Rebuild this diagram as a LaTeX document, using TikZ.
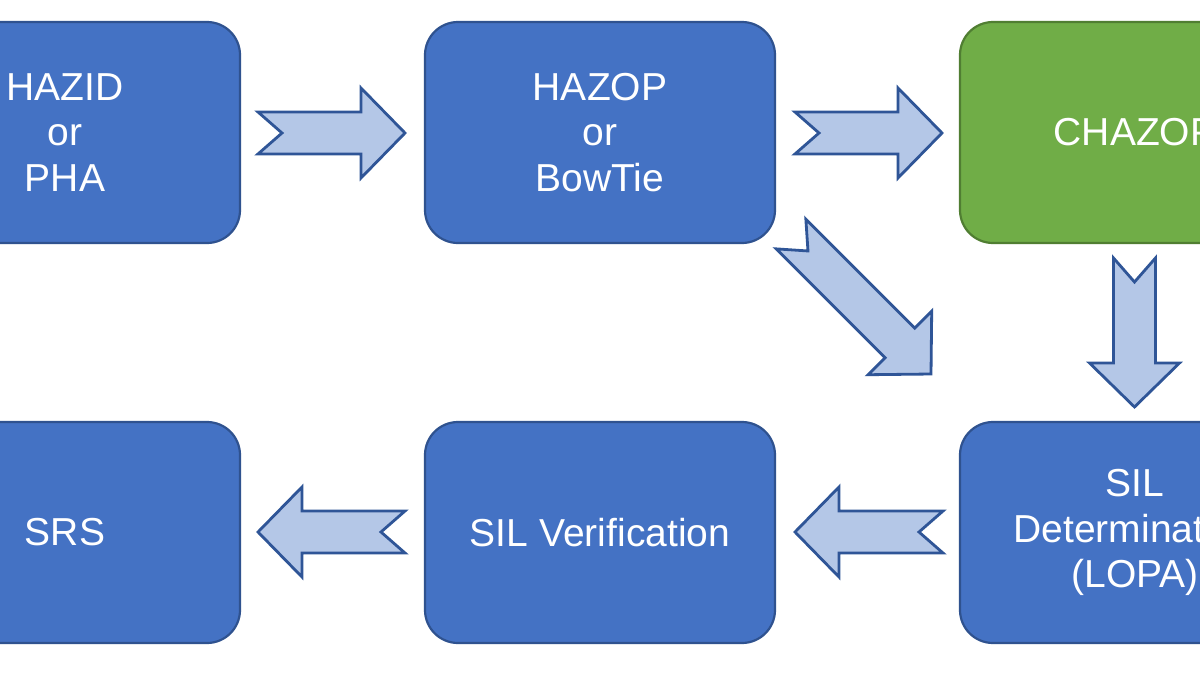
\documentclass[tikz,border=0pt]{standalone}
\usepackage{fontspec}
\setmainfont{Liberation Sans}
\definecolor{boxblue}{HTML}{4472C4}
\definecolor{boxedge}{HTML}{2F528F}
\definecolor{boxgreen}{HTML}{70AD47}
\definecolor{greenedge}{HTML}{507E32}
\definecolor{arrowfill}{HTML}{B4C7E7}
\definecolor{arrowedge}{HTML}{2F5597}
\tikzset{
  stagebox/.style={draw=boxedge, fill=boxblue, line width=2.2pt, rounded corners=33pt,
    minimum width=350pt, minimum height=221pt, text=white, align=center,
    font=\fontsize{39}{45.5}\selectfont, inner sep=0pt},
  greenbox/.style={stagebox, draw=greenedge, fill=boxgreen},
  barrowstyle/.style={draw=arrowedge, fill=arrowfill, line width=2.8pt, line join=miter},
}
% #1,#2 tail position, #3 angle, #4 length
\newcommand{\drawblockarrow}[4]{%
  \begin{scope}[shift={(#1,#2)}, rotate=#3]
    \draw[barrowstyle] (0,21) -- ({#4-44},21) -- ({#4-44},45) -- (#4,0)
      -- ({#4-44},-45) -- ({#4-44},-21) -- (0,-21) -- (24,0) -- cycle;
  \end{scope}}
\begin{document}
\begin{tikzpicture}[x=1pt,y=-1pt]
  \useasboundingbox (0,0) rectangle (1200,675);
  \fill[white] (0,0) rectangle (1200,675);
  \clip (0,0) rectangle (1200,675);

  \node[stagebox] (hazid) at (65,132.5) {HAZID\\or\\PHA};
  \node[stagebox] (hazop) at (600,132.5) {HAZOP\\or\\BowTie};
  \node[greenbox] (chazop) at (1135,132.5) {CHAZOP};
  \node[stagebox] (srs) at (65,532.5) {SRS};
  \node[stagebox] (silver) at (600,532.5) {SIL Verification};
  \node[stagebox] (sildet) at (1135,532.5) {SIL\\Determination\\(LOPA)};

  \drawblockarrow{258}{133}{0}{147}
  \drawblockarrow{795}{133}{0}{147}
  \drawblockarrow{791}{234}{-45}{198}
  \drawblockarrow{1134.5}{258}{-90}{149}
  \drawblockarrow{943}{532}{180}{148}
  \drawblockarrow{405}{532}{180}{147}
\end{tikzpicture}
\end{document}
